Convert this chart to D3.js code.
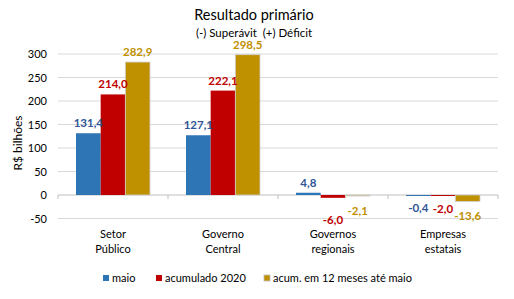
<!DOCTYPE html>
<html>
<head>
<meta charset="utf-8">
<script src="https://cdn.jsdelivr.net/npm/d3@7"></script>
<style>
  body { margin: 0; background: #fff; }
  text { font-family: Lato, "Open Sans", sans-serif; white-space: pre; }
</style>
</head>
<body>
<div id="chart"></div>
<script>
// dados do gráfico
var categories = [["Setor", "Público"], ["Governo", "Central"], ["Governos", "regionais"], ["Empresas", "estatais"]];
var seriesNames = ["maio", "acumulado 2020", "acum. em 12 meses até maio"];
var maio = [131.4, 127.1, 4.8, -0.4];
var acumulado = [214.0, 222.1, -6.0, -2.0];
var acum12 = [282.9, 298.5, -2.1, -13.6];
var yTicks = [-50, 0, 50, 100, 150, 200, 250, 300];

var barColors = ["#2E75B6", "#C00000", "#BF9000"];
var labelColors = ["#2F5597", "#C00000", "#BF9000"];

var W = 514, H = 299;
var svg = d3.select("#chart").append("svg")
  .attr("width", W)
  .attr("height", H);

var x0 = d3.scaleBand().domain(d3.range(categories.length)).range([58, 498]).paddingInner(0).paddingOuter(0);
var x1 = d3.scaleBand().domain(d3.range(3)).range([18, 110 - 18]);
var y = d3.scaleLinear().domain([-50, 300]).range([218.5, 54]);

// título
svg.append("text").attr("x", 254).attr("y", 20).attr("text-anchor", "middle")
  .attr("font-size", 14.5).attr("fill", "#000").text("Resultado primário");
svg.append("text").attr("x", 254).attr("y", 37).attr("text-anchor", "middle")
  .attr("font-size", 11.5).attr("fill", "#000").text("(-) Superávit  (+) Déficit");

// grade
svg.append("g").selectAll("line").data(yTicks).enter().append("line")
  .attr("x1", 58).attr("x2", 498)
  .attr("y1", function(d){ return y(d); })
  .attr("y2", function(d){ return y(d); })
  .attr("stroke", function(d){ return d == 0 ? "#bfbfbf" : "#d9d9d9"; })
  .attr("stroke-width", 1);

// ticks do eixo x
svg.append("g").selectAll("line").data(d3.range(categories.length + 1)).enter().append("line")
  .attr("x1", function(i){ return 58 + i * x0.bandwidth(); })
  .attr("x2", function(i){ return 58 + i * x0.bandwidth(); })
  .attr("y1", y(0)).attr("y2", y(0) + 4)
  .attr("stroke", "#bfbfbf");

// rótulos eixo y
svg.append("g").selectAll("text").data(yTicks).enter().append("text")
  .attr("x", 47).attr("y", function(d){ return y(d) + 4; })
  .attr("text-anchor", "end").attr("font-size", 11).attr("fill", "#000")
  .text(function(d){ return d; });

svg.append("text")
  .attr("transform", "translate(22,143) rotate(-90)")
  .attr("text-anchor", "middle").attr("font-size", 12).attr("fill", "#000")
  .text("R$ bilhões");

// barras
var data = [];
var all = [maio, acumulado, acum12];
for (var c = 0; c < categories.length; c++) {
  for (var s = 0; s < 3; s++) {
    data.push({c: c, s: s, v: all[s][c]});
  }
}

svg.append("g").selectAll("rect").data(data).enter().append("rect")
  .attr("x", function(d){ return x0(d.c) + x1(d.s); })
  .attr("width", x1.bandwidth())
  .attr("y", function(d){ return Math.min(y(d.v), y(0)); })
  .attr("height", function(d){ return Math.max(Math.abs(y(d.v) - y(0)), 1); })
  .attr("fill", function(d){ return barColors[d.s]; })
  .attr("stroke", function(d){ return d.s == 2 ? "#d0d0d0" : "none"; })
  .attr("stroke-width", 0.8);

// rótulos de dados
function fmt(v) { return d3.format(".1f")(v).replace(".", ",").replace("−", "-"); }

svg.append("g").selectAll("text").data(data).enter().append("text")
  .attr("x", function(d){ return x0(d.c) + x1(d.s) + x1.bandwidth() / 2; })
  .attr("y", function(d){
    if (d.v >= 0) return y(d.v) - 6;
    var off = (d.c == 2 && d.s == 1) ? 26 : (d.s == 2 ? 19 : 17);
    return y(d.v) + off;
  })
  .attr("text-anchor", "middle").attr("font-size", 11.5).attr("font-weight", "bold")
  .attr("fill", function(d){ return labelColors[d.s]; })
  .text(function(d){ return fmt(d.v); });

// categorias
var cat = svg.append("g").selectAll("text").data(categories).enter().append("text")
  .attr("text-anchor", "middle").attr("font-size", 11).attr("fill", "#000");
cat.append("tspan")
  .attr("x", function(d, i){ return x0(i) + x0.bandwidth() / 2; })
  .attr("y", 238).text(function(d){ return d[0]; });
cat.append("tspan")
  .attr("x", function(d, i){ return x0(i) + x0.bandwidth() / 2; })
  .attr("y", 253).text(function(d){ return d[1]; });

// legenda
var legX = [103, 156, 264];
var leg = svg.append("g").selectAll("g").data(seriesNames).enter().append("g")
  .attr("transform", function(d, i){ return "translate(" + legX[i] + ",275)"; });
leg.append("rect").attr("width", 6).attr("height", 6)
  .attr("fill", function(d, i){ return barColors[i]; })
  .attr("stroke", function(d, i){ return i == 2 ? "#bfbfbf" : "none"; })
  .attr("stroke-width", 0.8);
leg.append("text").attr("x", 9).attr("y", 7).attr("font-size", 11).attr("fill", "#000")
  .text(function(d){ return d; });
</script>
</body>
</html>
